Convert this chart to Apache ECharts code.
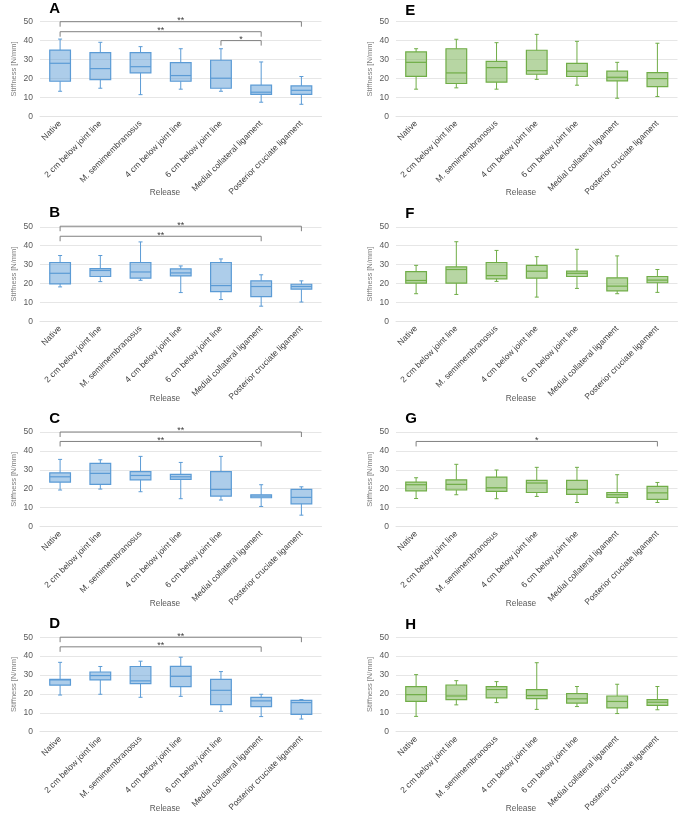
<!DOCTYPE html>
<html><head><meta charset="utf-8">
<script src="https://cdn.jsdelivr.net/npm/echarts@6/dist/echarts.min.js"></script>
<style>html,body{margin:0;padding:0;background:#fff}#c{width:685px;height:822px}</style>
</head><body><div id="c"></div>
<script>
const categories = ['Native','2 cm below joint line','M. semimembranosus','4 cm below joint line','6 cm below joint line','Medial collateral ligament','Posterior cruciate ligament'];
const yTicks = [0, 10, 20, 30, 40, 50];
const xAxisTitle = 'Release';
const yAxisTitle = 'Stiffness [N/mm]';

// each row: [min, q1, median, q3, max]
const panelA = [[13.2,18.5,28.0,35.0,40.8],[14.8,19.4,25.2,33.6,39.1],[11.4,22.9,26.2,33.6,36.8],[14.3,18.5,21.5,28.3,35.7],[13.2,14.8,20.1,29.6,35.7],[7.4,11.6,12.7,16.4,28.7],[6.3,11.6,13.7,16.0,21.0]];
const panelB = [[18.2,19.8,25.4,31.1,34.8],[21.0,23.7,26.9,27.9,34.8],[21.7,22.8,26.1,31.1,42.0],[15.2,24.0,25.6,27.7,29.3],[11.5,15.7,18.9,31.1,33.0],[8.0,13.1,18.4,21.4,24.6],[10.2,17.0,18.4,19.6,21.4]];
const panelC = [[19.3,23.5,26.3,28.4,35.5],[19.8,22.3,28.1,33.4,35.3],[18.4,24.7,27.0,29.0,37.1],[14.7,24.9,26.3,27.6,33.9],[14.0,16.1,19.6,29.0,37.1],[10.6,15.2,16.1,16.8,22.1],[6.0,12.0,15.4,19.6,21.0]];
const panelD = [[19.4,24.6,27.4,27.7,36.7],[19.8,27.4,29.7,31.6,34.5],[18.2,25.4,26.9,34.5,37.3],[18.7,23.9,29.3,34.6,39.4],[10.8,14.3,21.9,27.7,31.8],[8.0,13.3,16.3,18.2,19.8],[6.7,9.2,15.4,16.6,17.0]];
const panelE = [[14.3,21.1,28.5,34.0,35.7],[15.0,17.3,22.9,35.7,40.7],[14.3,18.0,25.7,29.0,38.9],[19.5,22.2,24.1,34.9,43.3],[16.4,21.0,23.8,28.0,39.6],[9.5,18.7,20.6,23.8,28.5],[10.4,15.7,19.9,23.1,38.6]];
const panelF = [[14.6,20.2,21.6,26.3,29.6],[14.2,20.2,27.4,28.8,42.1],[21.1,22.5,24.2,31.1,37.5],[12.8,22.8,26.5,29.6,34.2],[17.4,23.7,25.4,26.5,38.1],[14.6,16.1,18.6,23.0,34.6],[15.3,20.4,21.8,23.7,27.4]];
const panelG = [[14.8,18.9,22.1,23.5,25.8],[16.8,19.3,22.3,24.7,32.9],[14.7,18.6,20.5,26.1,29.9],[15.9,18.0,23.0,24.4,31.3],[12.7,17.0,19.6,24.4,31.3],[12.5,15.4,16.8,18.0,27.4],[12.7,14.3,17.8,21.2,23.3]];
const panelH = [[8.1,16.0,19.6,23.9,30.2],[14.2,17.0,18.9,24.7,27.0],[15.4,17.9,22.3,23.9,26.5],[11.8,17.5,19.1,22.3,36.5],[13.3,15.1,17.4,20.2,23.9],[9.6,12.6,16.0,18.9,25.1],[11.6,13.9,15.6,17.0,23.9]];

// significance brackets: [fromCategory, toCategory, yValue, label]
const sigA = [[0,6,50,'**'],[0,5,44.7,'**'],[4,5,40,'*']];
const sigB = [[0,6,50.3,'**'],[0,5,45,'**']];
const sigC = [[0,6,50,'**'],[0,5,45,'**']];
const sigD = [[0,6,50,'**'],[0,5,44.9,'**']];
const sigE = [];
const sigF = [];
const sigG = [[0,6,45,'*']];
const sigH = [];

const BLUE = {stroke:'#5b9bd5', fill:'rgba(91,155,213,0.5)'};
const GREEN = {stroke:'#70ad47', fill:'rgba(112,173,71,0.5)'};

const panels = [
  {letter:'A', data:panelA, sig:sigA, col:0, row:0, c:BLUE, ty:9},
  {letter:'B', data:panelB, sig:sigB, col:0, row:1, c:BLUE, ty:213},
  {letter:'C', data:panelC, sig:sigC, col:0, row:2, c:BLUE, ty:419},
  {letter:'D', data:panelD, sig:sigD, col:0, row:3, c:BLUE, ty:624},
  {letter:'E', data:panelE, sig:sigE, col:1, row:0, c:GREEN, ty:10.5},
  {letter:'F', data:panelF, sig:sigF, col:1, row:1, c:GREEN, ty:214},
  {letter:'G', data:panelG, sig:sigG, col:1, row:2, c:GREEN, ty:419},
  {letter:'H', data:panelH, sig:sigH, col:1, row:3, c:GREEN, ty:625}
];

const FONT = "'Liberation Sans', Arial, sans-serif";
const colLeft = [40, 396];
const rowTop = [21.7, 226.8, 432, 637.2];
const gridW = 281.5, gridH = 94.5;
const releaseY = [193, 399, 604, 809];

const grids = [], xAxes = [], yAxes = [], series = [], graphics = [];

panels.forEach((p, i) => {
  grids.push({left: colLeft[p.col], top: rowTop[p.row], width: gridW, height: gridH, containLabel: false});
  xAxes.push({
    type: 'category', gridIndex: i, data: categories,
    axisLine: {show: true, lineStyle: {color: '#e3e3e3', width: 1}},
    axisTick: {show: false},
    axisLabel: {interval: 0, rotate: 45, margin: 6, fontSize: 8.5, color: '#404040', fontFamily: FONT}
  });
  yAxes.push({
    type: 'value', gridIndex: i, min: yTicks[0], max: yTicks[yTicks.length-1], interval: yTicks[1]-yTicks[0],
    axisLine: {show: false}, axisTick: {show: false},
    splitLine: {lineStyle: {color: '#e6e6e6', width: 1}},
    axisLabel: {fontSize: 8.5, color: '#595959', margin: 7, fontFamily: FONT},
    name: yAxisTitle, nameLocation: 'middle', nameGap: 22,
    nameTextStyle: {fontSize: 7.5, color: '#808080', fontFamily: FONT}
  });
  const c = p.c;
  series.push({
    type: 'custom', xAxisIndex: i, yAxisIndex: i,
    data: p.data.map((d, k) => [k].concat(d)),
    encode: {x: 0, y: [1,2,3,4,5]},
    renderItem: function (params, api) {
      const k = api.value(0);
      const pMin = api.coord([k, api.value(1)]);
      const pQ1 = api.coord([k, api.value(2)]);
      const pMed = api.coord([k, api.value(3)]);
      const pQ3 = api.coord([k, api.value(4)]);
      const pMax = api.coord([k, api.value(5)]);
      const bw = api.size([1, 0])[0] * 0.515;
      const x = pMed[0];
      const cap = 2;
      const ls = {stroke: c.stroke, lineWidth: 1};
      return {type: 'group', children: [
        {type: 'line', shape: {x1: x, y1: pMax[1], x2: x, y2: pQ3[1]}, style: ls},
        {type: 'line', shape: {x1: x, y1: pQ1[1], x2: x, y2: pMin[1]}, style: ls},
        {type: 'line', shape: {x1: x-cap, y1: pMax[1], x2: x+cap, y2: pMax[1]}, style: ls},
        {type: 'line', shape: {x1: x-cap, y1: pMin[1], x2: x+cap, y2: pMin[1]}, style: ls},
        {type: 'rect', shape: {x: x - bw/2, y: pQ3[1], width: bw, height: pQ1[1]-pQ3[1]}, style: {fill: c.fill, stroke: c.stroke, lineWidth: 1.2}},
        {type: 'line', shape: {x1: x - bw/2, y1: pMed[1], x2: x + bw/2, y2: pMed[1]}, style: {stroke: c.stroke, lineWidth: 1.2}}
      ]};
    },
    silent: true, animation: false
  });
  if (p.sig.length) {
    series.push({
      type: 'custom', xAxisIndex: i, yAxisIndex: i, clip: false,
      data: p.sig.map(s => [s[0], s[1], s[2], s[3]]),
      encode: {x: [0,1], y: 2},
      renderItem: function (params, api) {
        const s = p.sig[params.dataIndex];
        const a = api.coord([s[0], s[2]]);
        const b = api.coord([s[1], s[2]]);
        return {type: 'group', children: [
          {type: 'polyline', shape: {points: [[a[0], a[1]+5], [a[0], a[1]], [b[0], b[1]], [b[0], b[1]+5]]},
            style: {stroke: '#808080', lineWidth: 1, fill: null}},
          {type: 'text', x: (a[0]+b[0])/2, y: a[1]-1,
            style: {text: s[3], fill: '#404040', font: '9px ' + FONT, align: 'center', verticalAlign: 'middle'}}
        ]};
      },
      silent: true, animation: false
    });
  }
  graphics.push({type: 'text', x: colLeft[p.col] + 9.3, y: p.ty,
    style: {text: p.letter, fill: '#000', font: 'bold 15px ' + FONT, align: 'left', verticalAlign: 'middle'}});
  graphics.push({type: 'text', x: colLeft[p.col] + 125, y: releaseY[p.row],
    style: {text: xAxisTitle, fill: '#595959', font: '8.3px ' + FONT, align: 'center', verticalAlign: 'middle'}});
});

const chart = echarts.init(document.getElementById('c'), null, {renderer: 'canvas'});
chart.setOption({
  animation: false,
  backgroundColor: '#fff',
  grid: grids, xAxis: xAxes, yAxis: yAxes, series: series, graphic: graphics
});
</script>
</body></html>
